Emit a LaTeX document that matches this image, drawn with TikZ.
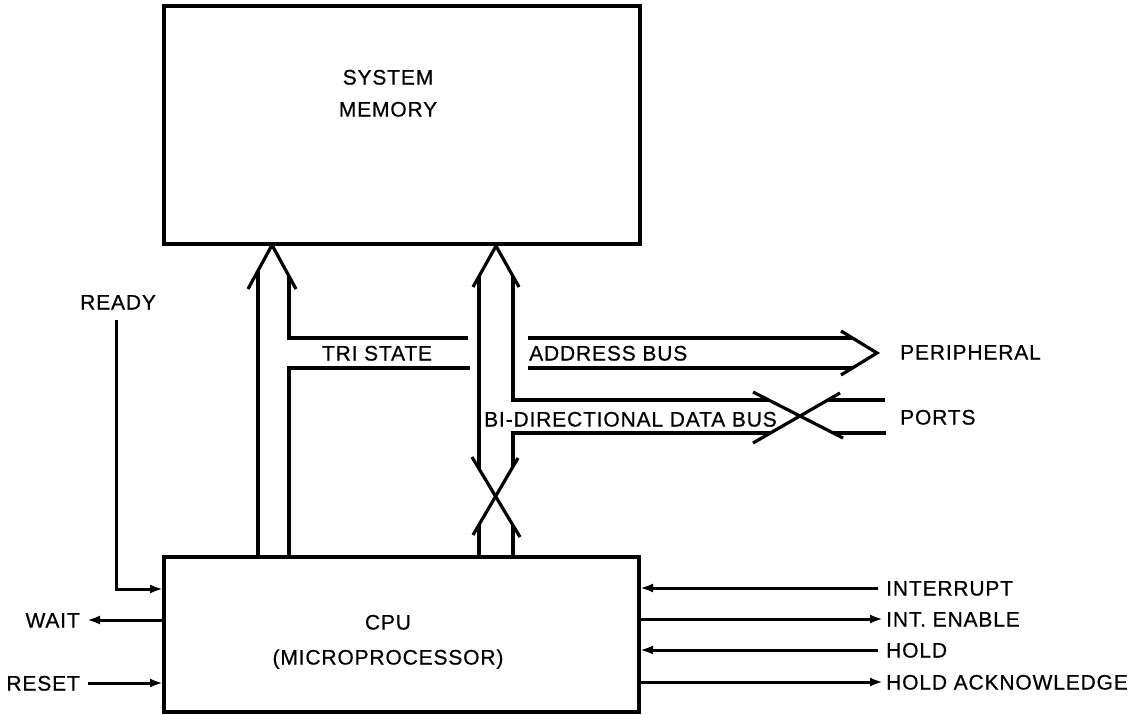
\documentclass[tikz,border=0pt]{standalone}
\usepackage{fontspec}
\setmainfont[FakeBold=0.6,LetterSpace=4]{Liberation Sans}
\usetikzlibrary{arrows.meta}
\begin{document}
\begin{tikzpicture}[x=1pt,y=-1pt,
  box/.style={draw, rectangle, inner sep=0pt, line width=3.2pt},
  lbl/.style={font=\fontsize{21}{24}\selectfont, inner sep=0pt, text height=15.1pt, text depth=0pt},
  sig/.style={-{Latex[length=13pt,width=9pt]}, line width=3pt},
  bus/.style={line width=3.2pt, line join=miter}]
\useasboundingbox (0,0) rectangle (1131,714);

% boxes
\node[box, minimum width=476pt, minimum height=238pt] (mem) at (402,125) {};
\node[box, minimum width=475pt, minimum height=155pt] (cpu) at (401.5,634.5) {};

% box labels
\node[lbl] (sys) at (388,77) {SYSTEM};
\node[lbl] (memlbl) at (388,109) {MEMORY};
\node[lbl] (cpulbl) at (388,622) {CPU};
\node[lbl] (micro) at (388,657) {(MICROPROCESSOR)};

% tri-state / address bus
\draw[bus] (258,557) -- (258,271);
\draw[bus] (248,289) -- (272,245) -- (296,289);
\draw[bus] (289,557) -- (289,368) -- (470,368);
\draw[bus] (468,338) -- (289,338) -- (289,276);
\node[lbl] (tri) at (377,353) {TRI STATE};
\draw[bus] (528,338) -- (852,338);
\draw[bus] (528,368) -- (852,368);
\draw[bus] (841,331) -- (877,353) -- (841,375);
\node[lbl, anchor=west] (addr) at (529,353) {ADDRESS BUS};
\node[lbl, anchor=west] (periph) at (900,352) {PERIPHERAL};

% data bus
\draw[bus] (473,287) -- (496,246) -- (519,287);
\draw[bus] (479,276) -- (479,469);
\draw[bus] (513,276) -- (513,400) -- (769,400);
\draw[bus] (770,433) -- (513,433) -- (513,467);
\draw[bus] (472,457) -- (520,537);
\draw[bus] (518,458) -- (473,535);
\draw[bus] (479,557) -- (479,525);
\draw[bus] (513,557) -- (513,525);
\draw[bus] (753,392) -- (843,438);
\draw[bus] (840,393) -- (753,443);
\draw[bus] (828,400) -- (885,400);
\draw[bus] (833,433) -- (886,433);
\node[lbl, anchor=west] (data) at (484,419) {BI-DIRECTIONAL DATA BUS};
\node[lbl, anchor=west] (ports) at (900,417) {PORTS};

% left signals
\node[lbl, anchor=west] (ready) at (80,302) {READY};
\coordinate (rdy) at (116,320);
\draw[sig] (rdy) -- (116,589) -- (163,589);
\node[lbl, anchor=east] (wait) at (80,620) {WAIT};
\draw[sig] (165,620) -- ([xshift=7pt]wait.east);
\node[lbl, anchor=east] (reset) at (80,683) {RESET};
\draw[sig] ([xshift=8pt]reset.east) -- (163,683);

% right signals
\node[lbl, anchor=west] (intr) at (886,588) {INTERRUPT};
\node[lbl, anchor=west] (inte) at (886,619) {INT. ENABLE};
\node[lbl, anchor=west] (hold) at (886,650) {HOLD};
\node[lbl, anchor=west] (holda) at (886,682) {HOLD ACKNOWLEDGE};
\draw[sig] ([xshift=-8pt]intr.west) -- (640,588);
\draw[sig] (638,619) -- ([xshift=-3pt]inte.west);
\draw[sig] ([xshift=-8pt]hold.west) -- (640,650);
\draw[sig] (638,682) -- ([xshift=-3pt]holda.west);
\end{tikzpicture}
\end{document}
